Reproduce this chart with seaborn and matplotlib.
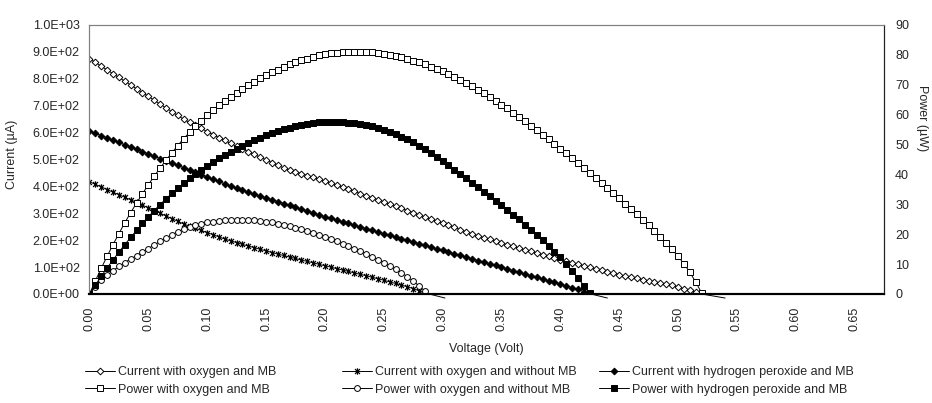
import numpy as np
import pandas as pd
import matplotlib
matplotlib.use("Agg")
import matplotlib.pyplot as plt
from matplotlib.path import Path
from matplotlib.ticker import FuncFormatter, MultipleLocator
import seaborn as sns

# voltage sweep, 5 mV steps
volt_step = 0.005
voltage = np.round(np.arange(105) * volt_step, 3)

# current (uA) with oxygen and MB, 0 - 0.520 V
cur_o2_mb = [874, 860, 846, 832, 818, 804, 790, 776, 762, 748, 734, 719, 705, 691, 677,
             663, 649, 637, 626, 615, 603, 592, 581, 570, 559, 548, 538, 528, 518, 508,
             498, 488, 478, 468, 461, 454, 447, 440, 433, 426, 419, 412, 404, 396, 389,
             381, 373, 365, 358, 350, 342, 334, 326, 318, 310, 302, 294, 286, 278, 270,
             262, 255, 247, 239, 231, 224, 216, 209, 203, 196, 190, 183, 177, 170, 164,
             158, 152, 146, 140, 134, 128, 122, 116, 110, 105, 99, 94, 88, 83, 77,
             72, 66, 62, 58, 53, 49, 45, 41, 36, 32, 26, 19, 13, 6, 0]
# power (uW) with oxygen and MB
pow_o2_mb = [0, 4.4, 8.6, 12.6, 16.5, 20.2, 23.8, 27.2, 30.4, 33.5, 36.5, 39.4, 42.1, 44.7, 47.2,
             49.6, 51.9, 54.0, 56.0, 57.9, 59.7, 61.4, 63.0, 64.5, 65.9, 67.3, 68.6, 69.8, 71.0, 72.1,
             73.1, 74.1, 75.0, 75.9, 76.7, 77.4, 78.1, 78.7, 79.3, 79.8, 80.2, 80.5, 80.7, 80.9, 81.0,
             81.0, 81.0, 80.9, 80.8, 80.6, 80.3, 80.0, 79.6, 79.1, 78.6, 78.0, 77.4, 76.7, 76.0, 75.2,
             74.4, 73.5, 72.5, 71.5, 70.5, 69.4, 68.3, 67.1, 65.9, 64.6, 63.3, 62.0, 60.6, 59.2, 57.8,
             56.3, 54.8, 53.3, 51.8, 50.2, 48.6, 47.0, 45.4, 43.8, 42.1, 40.5, 38.8, 37.1, 35.4, 33.7,
             32.0, 30.2, 28.4, 26.6, 24.8, 22.9, 21.0, 19.0, 17.0, 14.9, 12.6, 10.1, 7.3, 4.0, 0.4]

# current with oxygen and without MB, 0 - 0.285 V
cur_o2_nomb = [417, 407, 398, 388, 378, 369, 359, 350, 340, 330, 320, 310, 300, 290, 280,
               270, 260, 252, 244, 236, 228, 220, 212, 204, 197, 191, 184, 178, 172, 166,
               160, 154, 148, 143, 137, 132, 126, 121, 116, 110, 105, 100, 94, 89, 84,
               78, 73, 68, 62, 57, 51, 45, 39, 33, 27, 20, 12, 4]
# power with oxygen and without MB
pow_o2_nomb = [0, 2.5, 4.6, 6.3, 7.8, 9.2, 10.5, 11.7, 12.8, 14.0, 15.2, 16.4, 17.6, 18.7, 19.8,
               20.8, 21.7, 22.4, 23.0, 23.5, 23.9, 24.2, 24.4, 24.6, 24.7, 24.8, 24.8, 24.7, 24.6, 24.4,
               24.2, 23.9, 23.5, 23.1, 22.7, 22.2, 21.7, 21.1, 20.5, 19.8, 19.1, 18.4, 17.6, 16.8, 16.0,
               15.2, 14.3, 13.4, 12.5, 11.5, 10.5, 9.4, 8.3, 7.1, 5.8, 4.3, 2.7, 1.0]

# current with hydrogen peroxide and MB, 0 - 0.425 V
cur_h2o2_mb = [605, 597, 588, 580, 571, 563, 554, 546, 537, 529, 520, 512, 503, 495, 486,
               478, 469, 461, 452, 443, 435, 426, 418, 409, 401, 392, 385, 378, 371, 364,
               357, 350, 343, 336, 329, 322, 315, 308, 301, 294, 287, 281, 274, 268, 262,
               256, 249, 243, 237, 231, 224, 218, 212, 206, 199, 193, 187, 181, 174, 168,
               162, 156, 149, 143, 137, 131, 124, 118, 112, 106, 99, 93, 87, 81, 74,
               68, 62, 56, 49, 43, 37, 30, 24, 17, 9, 1]
# power with hydrogen peroxide and MB
pow_h2o2_mb = [0, 3.0, 5.9, 8.7, 11.4, 14.0, 16.5, 18.9, 21.3, 23.6, 25.8, 27.9, 29.9, 31.8, 33.6,
               35.3, 37.0, 38.6, 40.1, 41.5, 42.9, 44.2, 45.4, 46.5, 47.6, 48.6, 49.6, 50.5, 51.4, 52.2,
               53.0, 53.7, 54.4, 55.0, 55.6, 56.1, 56.5, 56.9, 57.2, 57.4, 57.6, 57.6, 57.6, 57.5, 57.3,
               57.1, 56.8, 56.4, 56.0, 55.4, 54.8, 54.1, 53.4, 52.6, 51.7, 50.7, 49.6, 48.4, 47.1, 45.8,
               44.4, 43.0, 41.6, 40.1, 38.7, 37.2, 35.7, 34.2, 32.7, 31.2, 29.7, 28.1, 26.5, 24.9, 23.2,
               21.5, 19.8, 18.0, 16.1, 14.2, 12.2, 10.0, 7.7, 5.3, 2.8, 0.4]

# next (negative) reading after each current curve crosses zero
tail_volt = [0.302, 0.44, 0.54]
tail_cur = [-15, -15, -15]

labels = ["Current with oxygen and MB", "Current with oxygen and without MB",
          "Current with hydrogen peroxide and MB", "Power with oxygen and MB",
          "Power with oxygen and without MB", "Power with hydrogen peroxide and MB"]

sns.set_style("white")
plt.rcParams["font.family"] = ["Liberation Sans", "DejaVu Sans"]
plt.rcParams["font.size"] = 9

# excel style star: an x with a vertical bar
star = Path([(-1, -1), (1, 1), (-1, 1), (1, -1), (0, -1.3), (0, 1.3)],
            [Path.MOVETO, Path.LINETO, Path.MOVETO, Path.LINETO, Path.MOVETO, Path.LINETO])

fig, ax = plt.subplots(figsize=(9.32, 4.03), dpi=100)
fig.subplots_adjust(left=0.096, right=0.9485, top=0.9387, bottom=0.2705)
ax2 = ax.twinx()

line_kw = dict(color="black", lw=0.7, mec="black", mew=0.7, estimator=None, sort=False)

series = [
    (ax, voltage[:105], cur_o2_mb, dict(marker="D", ms=3.4, mfc="white")),
    (ax, voltage[:58], cur_o2_nomb, dict(marker=star, ms=4.6, mfc="none", mew=0.9)),
    (ax, voltage[:86], cur_h2o2_mb, dict(marker="D", ms=3.4, mfc="black")),
    (ax2, voltage[:105], pow_o2_mb, dict(marker="s", ms=3.8, mfc="white")),
    (ax2, voltage[:58], pow_o2_nomb, dict(marker="o", ms=4.2, mfc="white")),
    (ax2, voltage[:86], pow_h2o2_mb, dict(marker="s", ms=4.2, mfc="black")),
]

handles = []
for target, v, vals, style in series:
    kw = {**line_kw, **style}
    sns.lineplot(x=v, y=vals, ax=target, **kw)
    handles.append(target.lines[-1])

# short tails running below the axis
for v, vals, tv, tc in zip([voltage[:58], voltage[:86], voltage[:105]],
                           [cur_o2_nomb, cur_h2o2_mb, cur_o2_mb], tail_volt, tail_cur):
    ax.plot([v[-1], tv], [vals[-1], tc], color="black", lw=0.7, clip_on=False, zorder=1)

ax.set_xlim(0, 0.675)
ax.set_ylim(0, 1000)
ax2.set_ylim(0, 90)
ax.xaxis.set_major_locator(MultipleLocator(0.05))
ax.xaxis.set_major_formatter(FuncFormatter(lambda v, p: f"{v:.2f}"))
ax.yaxis.set_major_locator(MultipleLocator(100))
ax.yaxis.set_major_formatter(FuncFormatter(lambda v, p: f"{v:.1E}"))
ax2.yaxis.set_major_locator(MultipleLocator(10))
ax.tick_params(axis="x", length=0, pad=9, labelrotation=90, labelsize=9)
ax.tick_params(axis="y", length=0, pad=7, labelsize=9)
ax2.tick_params(axis="y", length=0, pad=8, labelsize=9)

ax.set_xlabel("Voltage (Volt)", fontsize=9)
ax.set_ylabel("Current (\u00b5A)", fontsize=9)
ax2.set_ylabel("Power (\u00b5W)", fontsize=9, rotation=270)
ax.xaxis.set_label_coords(0.5, -0.182)
ax.yaxis.set_label_coords(-0.09, 0.52)
ax2.yaxis.set_label_coords(1.055, 0.655)

for a in (ax, ax2):
    for side in ("left", "top"):
        a.spines[side].set_color("#808080")
        a.spines[side].set_linewidth(0.8)
    a.spines["right"].set_color("#202020")
    a.spines["right"].set_linewidth(0.8)
    a.spines["bottom"].set_color("black")
    a.spines["bottom"].set_linewidth(1.5)

# legend: three equal-width columns under the plot
col_x = [85, 342, 599]
for i, x0 in enumerate(col_x):
    fig.legend([handles[i], handles[i + 3]], [labels[i], labels[i + 3]],
               loc="upper left", bbox_to_anchor=(x0 / 932, 1 - 366 / 403),
               frameon=False, fontsize=9, handlelength=2.4, handletextpad=0.25,
               labelspacing=0.45, borderaxespad=0, borderpad=0, numpoints=1)

fig.savefig("out.png", dpi=100)
